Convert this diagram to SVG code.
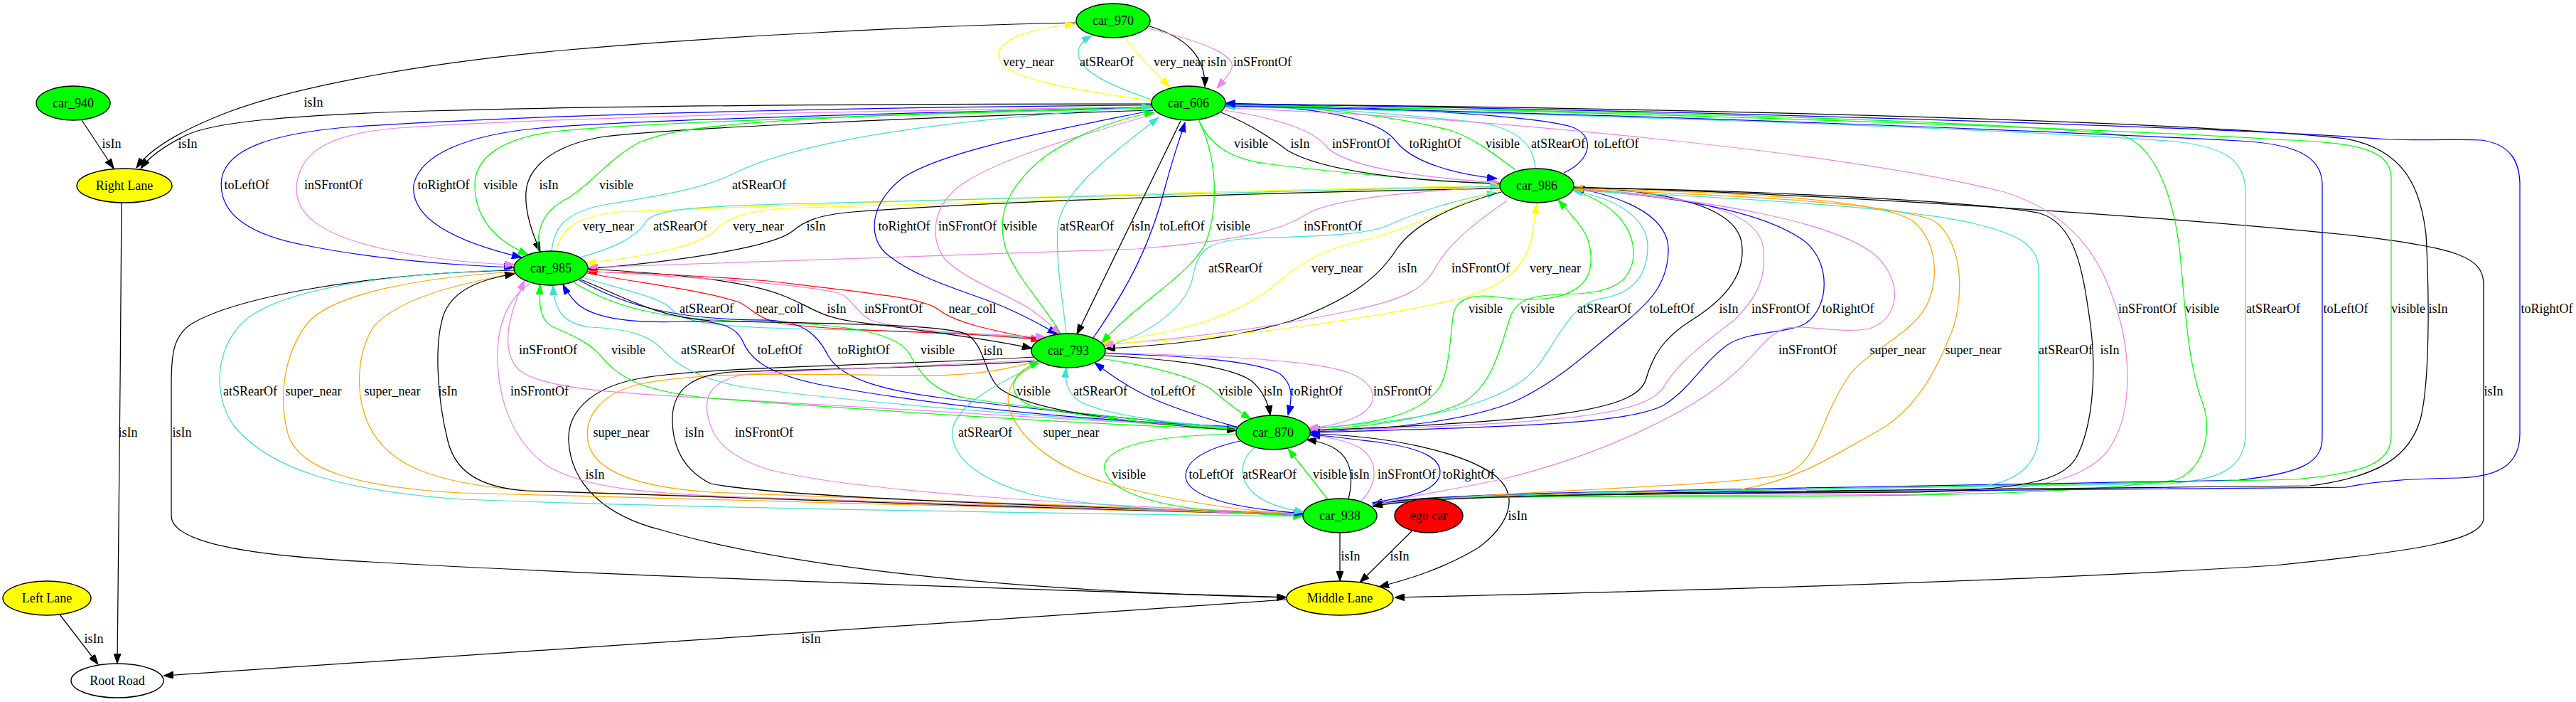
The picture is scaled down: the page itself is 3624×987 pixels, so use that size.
<svg xmlns="http://www.w3.org/2000/svg" width="3624" height="987" viewBox="0 0 3624 987">
<style>
text{font-family:"Liberation Serif","Times New Roman",serif;font-size:18px;text-anchor:middle;fill:#000}
.n ellipse{stroke:#000;stroke-width:1.4}
.gn{fill:#00ff00}.yl{fill:#ffff00}.rd{fill:#ff0000}.wh{fill:#ffffff}
#edges path{fill:none;stroke-width:1.25}
.k{stroke:#000;marker-end:url(#mk)}
.b{stroke:#0000ff;marker-end:url(#mb)}
.g{stroke:#00ff00;marker-end:url(#mg)}
.v{stroke:#ee82ee;marker-end:url(#mv)}
.t{stroke:#40e0d0;marker-end:url(#mt)}
.y{stroke:#ffff00;marker-end:url(#my)}
.o{stroke:#ffa500;marker-end:url(#mo)}
.r{stroke:#ff0000;marker-end:url(#mr)}
.s{marker-end:none}
.k.s{marker-start:url(#mk)}.b.s{marker-start:url(#mb)}.g.s{marker-start:url(#mg)}.v.s{marker-start:url(#mv)}
.t.s{marker-start:url(#mt)}.y.s{marker-start:url(#my)}.o.s{marker-start:url(#mo)}.r.s{marker-start:url(#mr)}
</style>
<defs>
<marker id="mk" viewBox="0 0 14 10" refX="14" refY="5" markerWidth="14" markerHeight="10" markerUnits="userSpaceOnUse" orient="auto-start-reverse"><path d="M0,0L14,5L0,10z" fill="#000" stroke="#000"/></marker>
<marker id="mb" viewBox="0 0 14 10" refX="14" refY="5" markerWidth="14" markerHeight="10" markerUnits="userSpaceOnUse" orient="auto-start-reverse"><path d="M0,0L14,5L0,10z" fill="#0000ff" stroke="#0000ff"/></marker>
<marker id="mg" viewBox="0 0 14 10" refX="14" refY="5" markerWidth="14" markerHeight="10" markerUnits="userSpaceOnUse" orient="auto-start-reverse"><path d="M0,0L14,5L0,10z" fill="#00ff00" stroke="#00ff00"/></marker>
<marker id="mv" viewBox="0 0 14 10" refX="14" refY="5" markerWidth="14" markerHeight="10" markerUnits="userSpaceOnUse" orient="auto-start-reverse"><path d="M0,0L14,5L0,10z" fill="#ee82ee" stroke="#ee82ee"/></marker>
<marker id="mt" viewBox="0 0 14 10" refX="14" refY="5" markerWidth="14" markerHeight="10" markerUnits="userSpaceOnUse" orient="auto-start-reverse"><path d="M0,0L14,5L0,10z" fill="#40e0d0" stroke="#40e0d0"/></marker>
<marker id="my" viewBox="0 0 14 10" refX="14" refY="5" markerWidth="14" markerHeight="10" markerUnits="userSpaceOnUse" orient="auto-start-reverse"><path d="M0,0L14,5L0,10z" fill="#ffff00" stroke="#ffff00"/></marker>
<marker id="mo" viewBox="0 0 14 10" refX="14" refY="5" markerWidth="14" markerHeight="10" markerUnits="userSpaceOnUse" orient="auto-start-reverse"><path d="M0,0L14,5L0,10z" fill="#ffa500" stroke="#ffa500"/></marker>
<marker id="mr" viewBox="0 0 14 10" refX="14" refY="5" markerWidth="14" markerHeight="10" markerUnits="userSpaceOnUse" orient="auto-start-reverse"><path d="M0,0L14,5L0,10z" fill="#ff0000" stroke="#ff0000"/></marker>
</defs>
<rect width="3624" height="987" fill="#ffffff"/>
<g id="edges">
<g><path class="k" d="M1514,32 C1300,36 1000,52 800,70 C600,88 420,120 320,158 C250,185 210,210 192,236"/><text x="441" y="150">isIn</text></g>
<g><path class="k" d="M115,169 L160,237"/><text x="157" y="208">isIn</text></g>
<g><path class="k" d="M1620,146 C1300,146 900,148 600,156 C400,162 300,172 262,190 C232,205 210,220 198,237"/><text x="264" y="208">isIn</text></g>
<g><path class="k" d="M171,285 C170,500 166,800 165,933"/><text x="180" y="614">isIn</text></g>
<g><path class="k" d="M84,864 L138,934"/><text x="132" y="904">isIn</text></g>
<g><path class="k" d="M1810,843 C1400,870 700,920 230,950"/><text x="1141" y="904">isIn</text></g>
<g><path class="k" d="M1885,749 L1885,817"/><text x="1900" y="788">isIn</text></g>
<g><path class="k" d="M1987,746 L1913,819"/><text x="1969" y="788">isIn</text></g>
<g><path class="k" d="M1843,610 C1950,612 2060,635 2105,670 C2140,700 2120,740 2080,770 C2030,800 1980,815 1940,825"/><text x="2135" y="731">isIn</text></g>
<g><path class="k" d="M724,380 C500,385 330,420 270,455 C243,472 241,500 241,540 L241,725 C241,760 330,780 520,790 C900,812 1500,830 1810,840"/><text x="256" y="614">isIn</text></g>
<g><path class="k" d="M2213,263 C2500,270 3000,300 3300,330 C3460,348 3494,362 3494,400 L3494,728 C3494,760 3400,775 3200,795 C2800,820 2300,832 1962,840"/><text x="3508" y="556">isIn</text></g>
<g><path class="k" d="M1454,502 C1250,514 1000,515 900,532 C830,545 798,580 800,620 C803,680 850,725 930,745 C1050,780 1300,828 1810,840"/><text x="837" y="673">isIn</text></g>
<g><path class="y" d="M1622,142 C1500,125 1410,110 1405,80 C1402,55 1450,40 1512,34"/><text x="1447" y="93">very_near</text></g>
<g><path class="t" d="M1620,140 C1560,120 1520,100 1517,77 C1516,66 1522,58 1536,50"/><text x="1557" y="93">atSRearOf</text></g>
<g><path class="y" d="M1583,52 C1600,80 1625,100 1645,122"/><text x="1659" y="93">very_near</text></g>
<g><path class="k" d="M1614,36 C1670,52 1696,80 1695,122"/><text x="1712" y="93">isIn</text></g>
<g><path class="v" d="M1611,39 C1700,60 1745,80 1731,100 C1725,110 1718,117 1712,124"/><text x="1776" y="93">inSFrontOf</text></g>
<g><path class="g" d="M1686,168 C1700,200 1725,222 1780,230 C1900,245 2020,254 2110,259"/><text x="1760" y="208">visible</text></g>
<g><path class="k" d="M1718,158 C1760,175 1790,195 1812,212 C1860,240 1980,255 2110,258"/><text x="1829" y="208">isIn</text></g>
<g><path class="v" d="M1722,155 C1790,165 1845,180 1865,205 C1890,235 2000,250 2110,257"/><text x="1915" y="208">inSFrontOf</text></g>
<g><path class="b" d="M1724,147 C1850,150 1940,165 1965,200 C1990,230 2050,245 2106,251"/><text x="2019" y="208">toRightOf</text></g>
<g><path class="g" d="M2132,239 C2100,215 2075,195 2040,183 C1950,160 1830,150 1724,146"/><text x="2114" y="208">visible</text></g>
<g><path class="t" d="M2160,237 C2158,200 2130,180 2080,172 C1950,158 1820,150 1724,147"/><text x="2192" y="208">atSRearOf</text></g>
<g><path class="b" d="M2200,243 C2240,225 2245,190 2210,178 C2150,160 1900,150 1724,145"/><text x="2274" y="208">toLeftOf</text></g>
<g><path class="b" d="M1620,148 C1300,150 800,158 500,178 C380,187 320,210 312,250 C305,300 350,330 430,345 C530,365 640,373 723,376"/><text x="347" y="266">toLeftOf</text></g>
<g><path class="v" d="M1620,150 C1300,155 800,163 560,180 C460,188 425,215 418,255 C410,300 450,330 540,350 C620,367 680,371 724,372"/><text x="469" y="266">inSFrontOf</text></g>
<g><path class="b" d="M1620,151 C1300,158 900,168 760,180 C650,190 590,220 582,260 C578,300 620,335 734,362"/><text x="624" y="266">toRightOf</text></g>
<g><path class="g" d="M1620,152 C1300,160 900,172 780,185 C700,195 668,225 668,260 C668,300 690,335 743,358"/><text x="704" y="266">visible</text></g>
<g><path class="k" d="M1622,155 C1300,165 950,180 850,192 C770,205 742,240 740,270 C738,300 750,330 760,354"/><text x="772" y="266">isIn</text></g>
<g><path class="g" d="M757,353 C755,320 765,295 800,278 C830,260 860,220 900,200 C950,178 1050,165 1620,150"/><text x="867" y="266">visible</text></g>
<g><path class="t" d="M776,353 C780,315 800,298 850,288 C930,275 990,265 1030,245 C1120,200 1300,170 1620,150"/><text x="1068" y="266">atSRearOf</text></g>
<g><path class="y" d="M783,352 C790,320 810,305 870,298 C1200,285 1700,268 2110,261"/><text x="856" y="324">very_near</text></g>
<g><path class="t" d="M816,362 C860,350 895,335 910,310 C925,292 1000,290 1100,287 C1500,278 1800,268 2110,262"/><text x="957" y="324">atSRearOf</text></g>
<g><path class="y" d="M2110,263 C1700,272 1300,285 1100,293 C1040,297 1020,310 1005,325 C980,345 930,358 825,370"/><text x="1067" y="324">very_near</text></g>
<g><path class="k" d="M2110,265 C1800,270 1400,283 1200,298 C1150,302 1130,312 1115,325 C1090,345 980,365 827,378"/><text x="1148" y="324">isIn</text></g>
<g><path class="v" d="M2112,263 C2000,268 1880,278 1840,300 C1810,318 1780,335 1600,350 C1300,362 1000,372 827,376"/><text x="1875" y="324">inSFrontOf</text></g>
<g><path class="t" d="M819,390 C880,408 930,418 945,435 C960,452 1000,458 1080,461 C1250,466 1380,466 1464,477"/><text x="994" y="440">atSRearOf</text></g>
<g><path class="r" d="M826,384 C900,398 990,408 1040,425 C1060,435 1065,448 1100,455 C1200,468 1350,465 1464,478"/><text x="1097" y="440">near_coll</text></g>
<g><path class="k" d="M827,378 C950,385 1050,395 1100,415 C1140,430 1150,445 1200,452 C1300,465 1400,478 1452,490"/><text x="1177" y="440">isIn</text></g>
<g><path class="r" d="M1464,478 C1400,465 1345,455 1320,435 C1300,420 1250,415 1080,395 C950,385 880,383 826,382"/><text x="1368" y="440">near_coll</text></g>
<g><path class="v" d="M826,381 C950,390 1100,395 1180,412 C1200,420 1205,440 1225,450 C1280,468 1400,470 1471,474"/><text x="1257" y="440">inSFrontOf</text></g>
<g><path class="t" d="M1555,487 C1620,470 1670,430 1678,390 C1685,350 1700,338 1760,335 C1860,332 1920,330 1950,318 C2000,295 2060,278 2106,271"/><text x="1738" y="383">atSRearOf</text></g>
<g><path class="y" d="M2112,266 C2050,285 2000,315 1930,335 C1860,350 1830,370 1800,395 C1750,440 1680,465 1549,482"/><text x="1881" y="383">very_near</text></g>
<g><path class="k" d="M2112,270 C2040,290 1990,315 1965,350 C1940,390 1900,420 1820,450 C1740,475 1650,485 1555,490"/><text x="1980" y="383">isIn</text></g>
<g><path class="v" d="M2120,282 C2080,310 2040,340 2020,375 C2005,405 1980,420 1900,437 C1800,458 1680,475 1552,485"/><text x="2083" y="383">inSFrontOf</text></g>
<g><path class="y" d="M1551,484 C1750,475 1950,445 2060,418 C2120,400 2145,375 2155,335 L2162,286"/><text x="2188" y="383">very_near</text></g>
<g><path class="b" d="M1622,155 C1500,180 1330,210 1270,250 C1225,285 1220,330 1245,355 C1290,395 1380,415 1420,435 C1450,448 1470,460 1488,470"/><text x="1272" y="324">toRightOf</text></g>
<g><path class="v" d="M1625,160 C1520,190 1380,230 1340,270 C1310,300 1310,340 1330,365 C1360,395 1420,415 1450,435 C1468,448 1482,460 1492,470"/><text x="1361" y="324">inSFrontOf</text></g>
<g><path class="g" d="M1492,469 C1470,430 1430,390 1415,350 C1400,300 1420,260 1470,220 C1520,185 1580,165 1624,158"/><text x="1435" y="324">visible</text></g>
<g><path class="t" d="M1500,469 C1495,420 1485,370 1488,320 C1492,270 1560,220 1630,165"/><text x="1529" y="324">atSRearOf</text></g>
<g><path class="k" d="M1661,170 L1515,470"/><text x="1605" y="324">isIn</text></g>
<g><path class="b" d="M1538,475 C1590,400 1620,340 1640,260 C1652,215 1660,195 1667,172"/><text x="1663" y="324">toLeftOf</text></g>
<g><path class="g" d="M1686,168 C1712,220 1715,290 1697,340 C1677,385 1600,425 1550,482"/><text x="1735" y="324">visible</text></g>
<g><path class="v" d="M1740,603 C1500,590 1200,570 1000,560 C850,552 760,545 730,520 C705,495 712,450 738,394"/><text x="771" y="498">inSFrontOf</text></g>
<g><path class="g" d="M1740,604 C1500,595 1200,575 1000,560 C900,550 870,530 845,500 C825,478 800,470 775,458 C760,448 758,430 760,400"/><text x="884" y="498">visible</text></g>
<g><path class="t" d="M1740,601 C1500,590 1200,565 1050,545 C990,535 955,515 935,495 C915,470 880,462 830,460 C795,455 780,440 778,401"/><text x="996" y="498">atSRearOf</text></g>
<g><path class="b" d="M1740,600 C1500,590 1300,568 1150,540 C1080,525 1055,505 1045,480 C1035,458 1010,450 960,452 C880,455 830,445 810,425 C800,414 795,406 792,400"/><text x="1097" y="498">toLeftOf</text></g>
<g><path class="b" d="M815,394 C880,430 950,450 1080,450 C1130,452 1150,470 1165,500 C1185,535 1250,550 1330,560 C1450,575 1600,590 1740,602"/><text x="1215" y="498">toRightOf</text></g>
<g><path class="g" d="M807,397 C860,430 920,450 1080,453 C1200,456 1260,470 1278,495 C1295,525 1310,550 1360,560 C1480,578 1620,592 1740,603"/><text x="1319" y="498">visible</text></g>
<g><path class="k" d="M817,393 C880,418 920,445 1000,451 C1150,455 1330,455 1360,470 C1385,485 1385,525 1405,545 C1450,580 1600,595 1740,605"/><text x="1397" y="499">isIn</text></g>
<g><path class="g" d="M1843,603 C1950,595 2000,580 2025,545 C2040,520 2040,470 2045,440 C2050,420 2070,412 2110,418 C2160,424 2200,422 2225,400 C2245,380 2240,340 2225,320 C2210,300 2200,290 2192,281"/><text x="2090" y="440">visible</text></g>
<g><path class="g" d="M2213,268 C2270,285 2300,320 2298,360 C2295,395 2270,410 2220,413 C2160,414 2135,418 2125,445 C2110,490 2100,540 2060,565 C2010,590 1920,600 1843,605"/><text x="2163" y="440">visible</text></g>
<g><path class="t s" d="M2213,268 C2280,280 2320,310 2318,350 C2316,395 2290,415 2250,420 C2210,430 2195,470 2170,505 C2140,555 2050,590 1843,602"/><text x="2257" y="440">atSRearOf</text></g>
<g><path class="b s" d="M2215,264 C2300,280 2350,310 2347,355 C2345,400 2320,425 2290,450 C2240,490 2200,530 2140,560 C2080,590 1950,605 1843,607"/><text x="2352" y="440">toLeftOf</text></g>
<g><path class="k" d="M2214,263 C2350,268 2440,290 2450,340 C2458,390 2420,425 2380,450 C2340,475 2325,500 2315,535 C2300,575 2200,592 1843,605"/><text x="2432" y="440">isIn</text></g>
<g><path class="v" d="M2214,265 C2380,275 2470,295 2480,345 C2488,395 2465,425 2440,450 C2400,480 2360,510 2340,545 C2310,585 2200,595 1843,606"/><text x="2505" y="440">inSFrontOf</text></g>
<g><path class="b" d="M2212,266 C2350,275 2480,295 2540,340 C2575,370 2575,430 2540,455 C2510,470 2460,465 2430,485 C2395,510 2380,545 2340,570 C2290,595 2150,600 1843,608"/><text x="2600" y="440">toRightOf</text></g>
<g><path class="v" d="M1722,152 C2100,165 2600,215 2820,270 C2930,305 2965,380 2985,460 C3000,530 2995,600 2960,640 C2920,680 2850,690 2700,695 C2300,698 2010,694 1931,711"/><text x="3021" y="440">inSFrontOf</text></g>
<g><path class="g" d="M1724,148 C2200,155 2800,168 2983,190 C3040,205 3062,300 3068,367 C3075,450 3080,520 3100,570 C3112,610 3100,660 3060,675 C2950,690 2800,697 2500,698 C2200,699 2010,695 1931,712"/><text x="3098" y="440">visible</text></g>
<g><path class="t s" d="M1724,150 C2200,160 2800,180 3050,198 C3130,205 3159,225 3159,270 L3159,610 C3159,660 3120,675 3050,680 C2300,692 2010,692 1931,710"/><text x="3198" y="440">atSRearOf</text></g>
<g><path class="b" d="M1724,149 C2300,160 2900,185 3150,198 C3230,202 3267,220 3267,260 L3267,615 C3267,650 3240,665 3150,675 C2300,691 2010,692 1931,709"/><text x="3300" y="440">toLeftOf</text></g>
<g><path class="g s" d="M1724,147 C2300,158 2950,180 3200,196 C3300,200 3364,205 3364,250 L3364,612 C3364,650 3330,665 3230,674 C2300,694 2010,694 1931,711"/><text x="3388" y="440">visible</text></g>
<g><path class="k" d="M1724,146 C2400,152 3100,172 3300,195 C3380,210 3405,260 3413,330 C3418,420 3418,540 3405,590 C3390,640 3350,670 3250,683 C2300,693 2010,693 1931,710"/><text x="3430" y="440">isIn</text></g>
<g><path class="b s" d="M1724,146 C2400,155 3150,180 3360,196 C3420,198 3460,195 3490,197 C3530,202 3545,225 3545,260 L3545,610 C3545,650 3520,670 3460,672 C3400,673 3350,675 3300,685 C2300,694 2010,694 1931,711"/><text x="3583" y="440">toRightOf</text></g>
<g><path class="v" d="M2214,266 C2400,280 2580,310 2640,360 C2680,400 2670,450 2630,462 C2590,470 2540,455 2510,462 C2480,475 2470,500 2440,525 C2380,580 2250,640 2120,672 C2040,690 1980,697 1931,711"/><text x="2543" y="498">inSFrontOf</text></g>
<g><path class="o s" d="M2213,265 C2450,270 2640,280 2690,310 C2730,340 2730,410 2700,445 C2670,480 2620,500 2600,530 C2560,590 2560,640 2520,663 C2480,685 2050,690 1931,712"/><text x="2670" y="498">super_near</text></g>
<g><path class="o" d="M2213,266 C2450,275 2660,285 2720,310 C2765,340 2765,430 2740,480 C2720,530 2690,580 2640,607 C2580,640 2530,675 2450,688 C2300,696 2010,694 1931,712"/><text x="2776" y="498">super_near</text></g>
<g><path class="t" d="M2213,268 C2500,280 2700,295 2780,315 C2840,330 2868,345 2868,380 L2868,610 C2868,650 2840,680 2780,684 C2500,688 2010,692 1931,711"/><text x="2906" y="498">atSRearOf</text></g>
<g><path class="k" d="M2214,264 C2500,268 2800,285 2870,300 C2920,315 2930,380 2940,450 C2950,520 2945,600 2920,645 C2900,675 2850,688 2700,692 C2400,694 2010,694 1931,712"/><text x="2968" y="498">isIn</text></g>
<g><path class="o" d="M1463,507 C1420,518 1380,528 1300,528 C1150,527 1000,520 900,540 C840,555 820,590 828,625 C840,665 900,685 1000,692 C1300,705 1600,712 1833,724"/><text x="874" y="614">super_near</text></g>
<g><path class="k" d="M1455,508 C1300,518 1100,520 1030,523 C970,527 948,550 946,585 C945,625 960,660 1000,680 C1100,700 1500,712 1833,723"/><text x="977" y="614">isIn</text></g>
<g><path class="v" d="M1457,506 C1300,515 1150,520 1060,525 C1010,530 990,550 995,580 C1000,615 1020,640 1080,660 C1200,690 1500,710 1833,722"/><text x="1075" y="614">inSFrontOf</text></g>
<g><path class="t" d="M1465,510 C1400,540 1345,570 1340,605 C1337,645 1380,675 1450,695 C1550,715 1700,720 1833,725"/><text x="1386" y="614">atSRearOf</text></g>
<g><path class="o" d="M1463,510 C1430,525 1412,545 1420,575 C1435,620 1490,660 1560,680 C1650,705 1750,718 1833,724"/><text x="1507" y="614">super_near</text></g>
<g><path class="t" d="M724,379 C550,385 400,405 345,450 C300,490 300,560 330,600 C380,660 480,690 650,702 C1000,715 1500,722 1833,726"/><text x="352" y="556">atSRearOf</text></g>
<g><path class="o" d="M724,382 C600,390 470,410 432,455 C398,500 392,560 405,610 C420,660 500,685 650,693 C1000,703 1500,715 1833,724"/><text x="441" y="556">super_near</text></g>
<g><path class="o s" d="M725,384 C640,400 560,420 525,460 C500,500 500,560 520,600 C545,650 600,680 746,690 C1000,700 1500,712 1833,723"/><text x="552" y="556">super_near</text></g>
<g><path class="k" d="M1833,724 C1500,715 1000,700 740,690 C670,685 640,660 630,620 C615,560 610,480 625,440 C640,405 680,392 724,385"/><text x="630" y="556">isIn</text></g>
<g><path class="v" d="M745,399 C715,420 700,455 700,500 C700,560 720,620 770,655 C820,685 900,695 1080,700 C1400,710 1650,718 1833,724"/><text x="759" y="556">inSFrontOf</text></g>
<g><path class="v" d="M1555,496 C1700,500 1850,505 1900,525 C1940,542 1940,570 1910,585 C1890,595 1865,600 1840,602"/><text x="1973" y="556">inSFrontOf</text></g>
<g><path class="b" d="M1555,497 C1650,500 1760,505 1800,525 C1820,540 1818,560 1812,584"/><text x="1852" y="556">toRightOf</text></g>
<g><path class="k" d="M1554,500 C1650,505 1730,515 1760,535 C1778,550 1785,570 1787,584"/><text x="1791" y="556">isIn</text></g>
<g><path class="g" d="M1549,504 C1620,515 1680,530 1705,548 C1725,565 1745,580 1760,589"/><text x="1738" y="556">visible</text></g>
<g><path class="b" d="M1743,601 C1700,590 1640,570 1610,555 C1580,540 1560,525 1540,510"/><text x="1650" y="556">toLeftOf</text></g>
<g><path class="g" d="M1742,604 C1650,598 1500,585 1450,570 C1420,558 1420,535 1440,520 L1462,507"/><text x="1454" y="556">visible</text></g>
<g><path class="t" d="M1741,602 C1650,595 1560,585 1520,565 C1500,552 1498,535 1500,517"/><text x="1548" y="556">atSRearOf</text></g>
<g><path class="g" d="M1740,610 C1650,612 1570,620 1555,650 C1545,680 1600,705 1680,715 C1740,722 1790,724 1834,725"/><text x="1588" y="673">visible</text></g>
<g><path class="b" d="M1745,620 C1700,630 1668,645 1668,670 C1670,700 1740,715 1835,722"/><text x="1704" y="673">toLeftOf</text></g>
<g><path class="t" d="M1766,629 C1745,645 1742,670 1760,690 C1778,708 1805,715 1835,720"/><text x="1786" y="673">atSRearOf</text></g>
<g><path class="g" d="M1868,702 L1812,631"/><text x="1871" y="673">visible</text></g>
<g><path class="k" d="M1897,702 C1905,670 1900,645 1880,632 C1868,624 1852,620 1838,618"/><text x="1913" y="673">isIn</text></g>
<g><path class="v" d="M1914,705 C1940,680 1940,645 1910,628 C1890,618 1865,614 1843,612"/><text x="1979" y="673">inSFrontOf</text></g>
<g><path class="b" d="M1930,707 C1970,700 2015,695 2025,670 C2032,645 2000,630 1940,622 C1900,617 1870,613 1843,611"/><text x="2066" y="673">toRightOf</text></g>
</g>
<g id="car_970" class="n"><ellipse class="gn" cx="1566" cy="29" rx="52" ry="24"/><text x="1566" y="35">car_970</text></g>
<g id="car_606" class="n"><ellipse class="gn" cx="1672" cy="145" rx="52" ry="24"/><text x="1672" y="151">car_606</text></g>
<g id="car_940" class="n"><ellipse class="gn" cx="103" cy="145" rx="52" ry="24"/><text x="103" y="151">car_940</text></g>
<g id="right_lane" class="n"><ellipse class="yl" cx="175" cy="261" rx="67" ry="24"/><text x="175" y="267">Right Lane</text></g>
<g id="car_986" class="n"><ellipse class="gn" cx="2162" cy="261" rx="52" ry="24"/><text x="2162" y="267">car_986</text></g>
<g id="car_985" class="n"><ellipse class="gn" cx="775" cy="377" rx="52" ry="24"/><text x="775" y="383">car_985</text></g>
<g id="car_793" class="n"><ellipse class="gn" cx="1503" cy="493" rx="52" ry="24"/><text x="1503" y="499">car_793</text></g>
<g id="car_870" class="n"><ellipse class="gn" cx="1791" cy="608" rx="52" ry="24"/><text x="1791" y="614">car_870</text></g>
<g id="car_938" class="n"><ellipse class="gn" cx="1885" cy="725" rx="52" ry="24"/><text x="1885" y="731">car_938</text></g>
<g id="ego_car" class="n"><ellipse class="rd" cx="2010" cy="725" rx="48" ry="24"/><text x="2010" y="731">ego car</text></g>
<g id="left_lane" class="n"><ellipse class="yl" cx="66" cy="841" rx="62" ry="24"/><text x="66" y="847">Left Lane</text></g>
<g id="middle_lane" class="n"><ellipse class="yl" cx="1885" cy="841" rx="75" ry="24"/><text x="1885" y="847">Middle Lane</text></g>
<g id="root_road" class="n"><ellipse class="wh" cx="165" cy="957" rx="65" ry="24"/><text x="165" y="963">Root Road</text></g>
</svg>
